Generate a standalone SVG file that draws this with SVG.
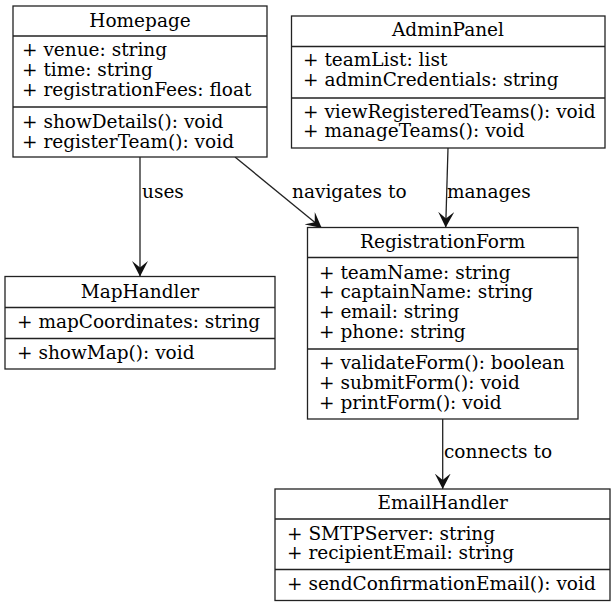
<svg xmlns="http://www.w3.org/2000/svg" width="615" height="607" viewBox="0 0 615 607">
<defs>
<style>
text{font-family:"DejaVu Serif","Liberation Serif",serif;font-size:18.5px;fill:#000}
.t{text-anchor:middle}
.box{fill:#fff;stroke:#222;stroke-width:1.3}
.sep{stroke:#222;stroke-width:1.3}
.edge{stroke:#222;stroke-width:1.3;fill:none}
</style>
<marker id="vee" viewBox="0 0 16 16" refX="15.5" refY="8" markerWidth="16" markerHeight="16" markerUnits="userSpaceOnUse" orient="auto">
<path d="M0,0 L15.5,8 L0,16 L6.5,8 Z" fill="#111"/>
</marker>
</defs>
<rect width="615" height="607" fill="#fff"/>
<g id="connectors">
<g id="e-uses"><path class="edge" d="M140,157 L140,276.5" marker-end="url(#vee)"/><text x="142" y="197.5">uses</text></g>
<g id="e-nav"><path class="edge" d="M235,157 L321.7,228" marker-end="url(#vee)"/><text x="292" y="197.5">navigates to</text></g>
<g id="e-man"><path class="edge" d="M448,148 L445.7,227.5" marker-end="url(#vee)"/><text x="447" y="197.5">manages</text></g>
<g id="e-con"><path class="edge" d="M442.7,419 L442.7,489" marker-end="url(#vee)"/><text x="444" y="458">connects to</text></g>
</g>
<g id="Homepage">
<rect class="box" x="13" y="6" width="254" height="151"/>
<line class="sep" x1="13" y1="36" x2="267" y2="36"/>
<line class="sep" x1="13" y1="107" x2="267" y2="107"/>
<text class="t" x="140" y="27">Homepage</text>
<text x="22" y="56">+ venue: string</text>
<text x="22" y="76">+ time: string</text>
<text x="22" y="96">+ registrationFees: float</text>
<text x="22" y="128">+ showDetails(): void</text>
<text x="22" y="148">+ registerTeam(): void</text>
</g>
<g id="AdminPanel">
<rect class="box" x="291.5" y="16" width="313.5" height="132"/>
<line class="sep" x1="291.5" y1="46.5" x2="605" y2="46.5"/>
<line class="sep" x1="291.5" y1="98" x2="605" y2="98"/>
<text class="t" x="448" y="36">AdminPanel</text>
<text x="303" y="66">+ teamList: list</text>
<text x="303" y="86">+ adminCredentials: string</text>
<text x="303" y="118">+ viewRegisteredTeams(): void</text>
<text x="303" y="137">+ manageTeams(): void</text>
</g>
<g id="MapHandler">
<rect class="box" x="5" y="276.5" width="270" height="92.5"/>
<line class="sep" x1="5" y1="307.5" x2="275" y2="307.5"/>
<line class="sep" x1="5" y1="338.5" x2="275" y2="338.5"/>
<text class="t" x="140" y="298">MapHandler</text>
<text x="17" y="328">+ mapCoordinates: string</text>
<text x="17" y="358.5">+ showMap(): void</text>
</g>
<g id="RegistrationForm">
<rect class="box" x="307.5" y="227.5" width="270.5" height="191.5"/>
<line class="sep" x1="307.5" y1="257.5" x2="578" y2="257.5"/>
<line class="sep" x1="307.5" y1="349" x2="578" y2="349"/>
<text class="t" x="442.7" y="248">RegistrationForm</text>
<text x="319" y="278.5">+ teamName: string</text>
<text x="319" y="298">+ captainName: string</text>
<text x="319" y="318">+ email: string</text>
<text x="319" y="338">+ phone: string</text>
<text x="319" y="368.5">+ validateForm(): boolean</text>
<text x="319" y="388.5">+ submitForm(): void</text>
<text x="319" y="408.5">+ printForm(): void</text>
</g>
<g id="EmailHandler">
<rect class="box" x="275" y="489" width="335" height="111.5"/>
<line class="sep" x1="275" y1="519" x2="610" y2="519"/>
<line class="sep" x1="275" y1="569.5" x2="610" y2="569.5"/>
<text class="t" x="442.7" y="509">EmailHandler</text>
<text x="287" y="539.5">+ SMTPServer: string</text>
<text x="287" y="559">+ recipientEmail: string</text>
<text x="287" y="590">+ sendConfirmationEmail(): void</text>
</g>
</svg>
